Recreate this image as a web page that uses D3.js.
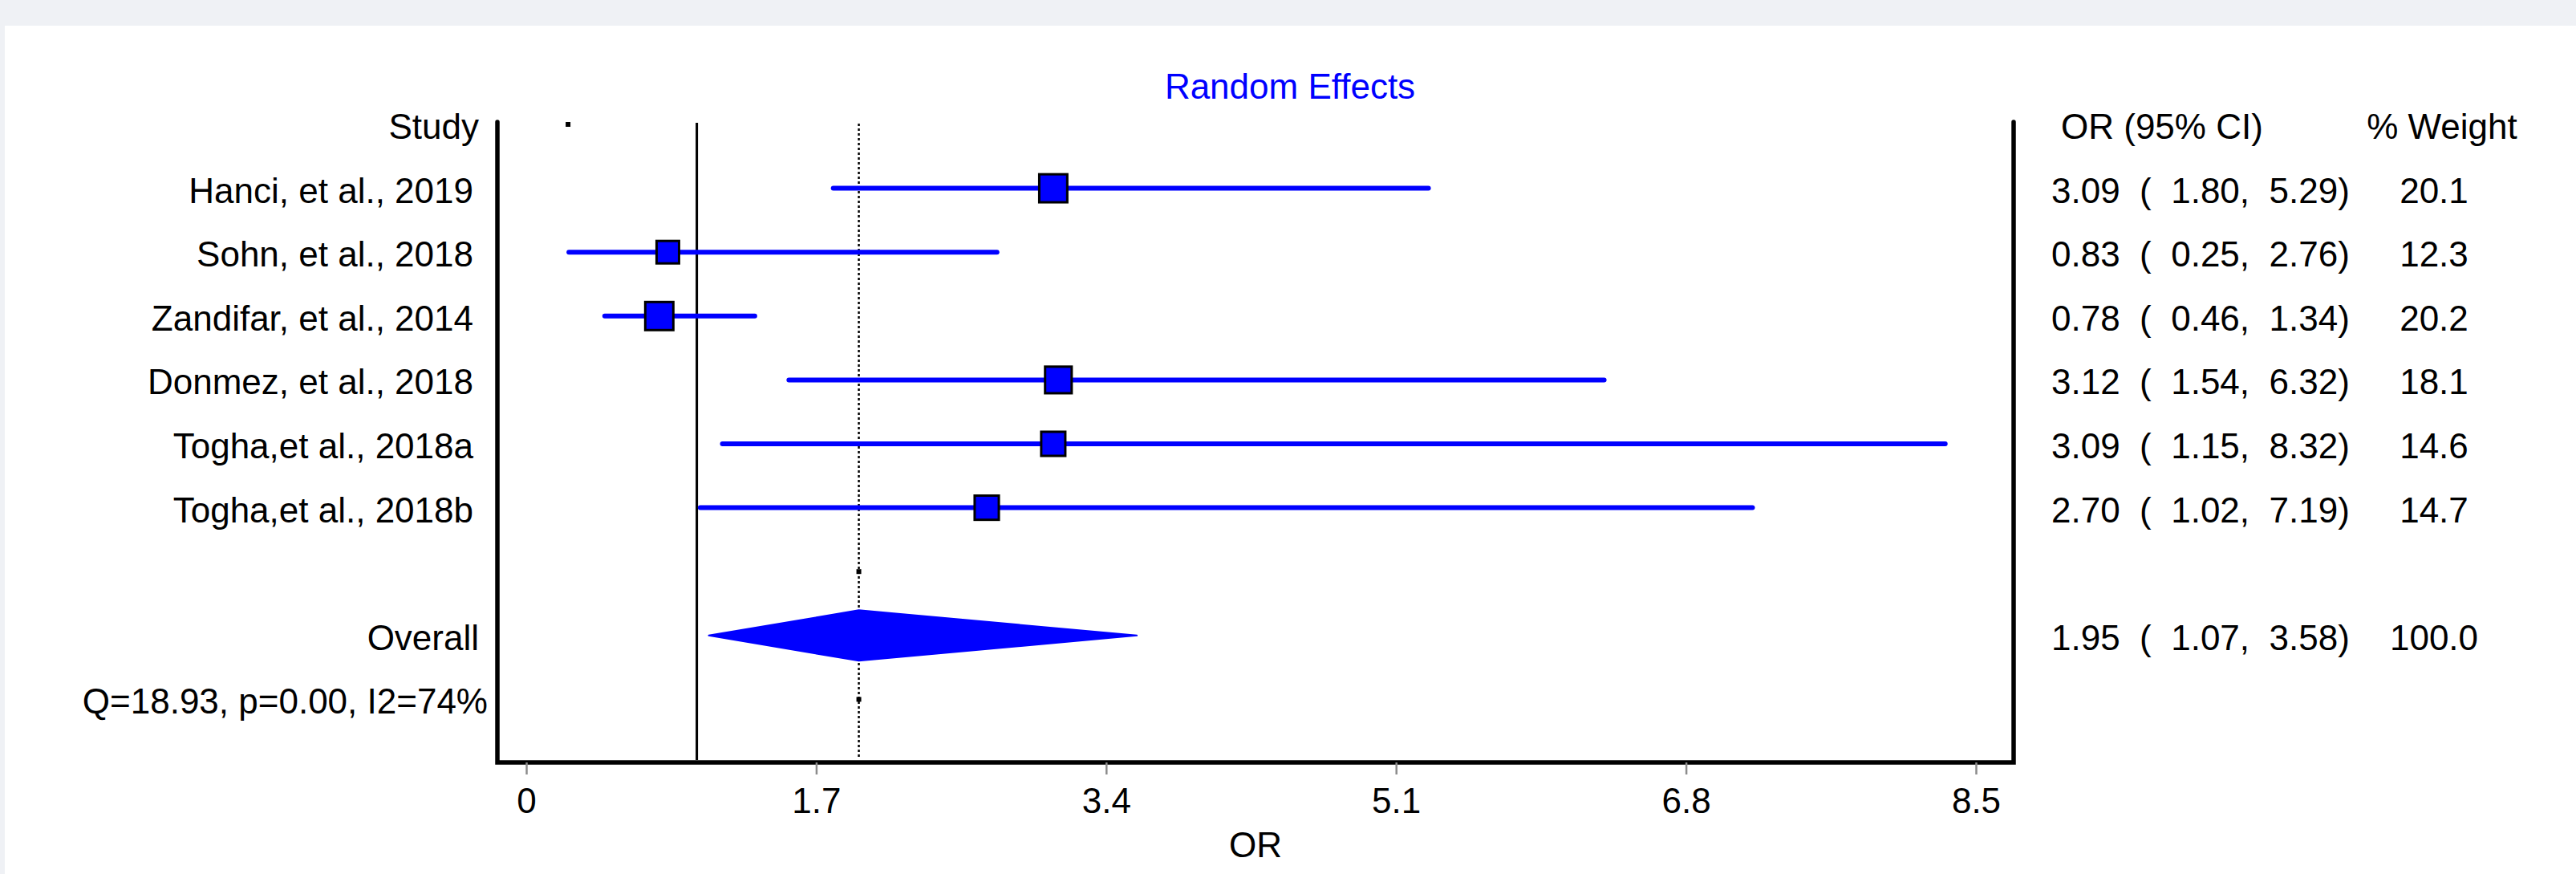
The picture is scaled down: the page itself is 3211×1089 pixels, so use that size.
<!DOCTYPE html>
<html>
<head>
<meta charset="utf-8">
<script src="https://cdn.jsdelivr.net/npm/d3@7"></script>
<style>
  html, body { margin: 0; padding: 0; background: #eff1f5; }
  svg { display: block; }
  text { font-family: "Liberation Sans", Arial, sans-serif; white-space: pre; }
</style>
</head>
<body>
<script>
/* global d3 */

// Data
const studies = ['Hanci, et al., 2019', 'Sohn, et al., 2018', 'Zandifar, et al., 2014',
  'Donmez, et al., 2018', 'Togha,et al., 2018a', 'Togha,et al., 2018b'];
const orValues = [3.09, 0.83, 0.78, 3.12, 3.09, 2.70];
const ciLower = [1.80, 0.25, 0.46, 1.54, 1.15, 1.02];
const ciUpper = [5.29, 2.76, 1.34, 6.32, 8.32, 7.19];
const weights = [20.1, 12.3, 20.2, 18.1, 14.6, 14.7];

const pooledOR = 1.95;
const pooledLower = 1.07;
const pooledUpper = 3.58;
const pooledWeight = 100.0;
const heterogeneityText = 'Q=18.93, p=0.00, I2=74%';

const tickValues = [0, 1.7, 3.4, 5.1, 6.8, 8.5];
const tickLabels = ['0', '1.7', '3.4', '5.1', '6.8', '8.5'];
const headerDotValue = 0.245;

const titleText = 'Random Effects';
const xAxisLabel = 'OR';

// Layout
const width = 3211;
const height = 1089;
const frameLeft = 620;
const frameRight = 2510;
const frameTop = 152;
const frameBottom = 950;
const blue = '#0000ff';
const fontSize = '44px';

const svg = d3.select('body')
  .append('svg')
  .attr('width', width)
  .attr('height', height);

// white panel
svg.append('rect')
  .attr('x', 6)
  .attr('y', 32)
  .attr('width', width - 6)
  .attr('height', height - 32)
  .attr('fill', '#ffffff');

// Scales
const xScale = d3.scaleLinear()
  .domain([0, 8.5])
  .range([656, 2463]);

// rows: 0 header, 1-6 studies, 7 blank, 8 overall, 9 heterogeneity
const yScale = d3.scalePoint()
  .domain(d3.range(10))
  .range([155, 871.4]);

const boxSize = d3.scaleLinear()
  .domain([12.3, 20.2])
  .range([31, 38]);

// Title
svg.append('text')
  .attr('x', 1608)
  .attr('y', 123)
  .attr('text-anchor', 'middle')
  .attr('fill', blue)
  .attr('font-size', fontSize)
  .text(titleText);

// Reference lines
svg.append('line')
  .attr('x1', xScale(1)).attr('x2', xScale(1))
  .attr('y1', 153).attr('y2', 947)
  .attr('stroke', 'black')
  .attr('stroke-width', 3);

svg.append('line')
  .attr('x1', xScale(pooledOR)).attr('x2', xScale(pooledOR))
  .attr('y1', 154).attr('y2', 946)
  .attr('stroke', 'black')
  .attr('stroke-width', 2.5)
  .attr('stroke-dasharray', '3,3');

// little dots
const dots = [[headerDotValue, 0], [pooledOR, 7], [pooledOR, 9]];
svg.append('g')
  .selectAll('rect')
  .data(dots)
  .join('rect')
  .attr('x', (d) => xScale(d[0]) - 3)
  .attr('y', (d) => yScale(d[1]) - 3)
  .attr('width', 6)
  .attr('height', 6)
  .attr('fill', 'black');

// Study CIs and boxes
const rows = studies.map((s, i) => ({
  name: s, or: orValues[i], lo: ciLower[i], hi: ciUpper[i], w: weights[i], row: i + 1,
}));

svg.append('g')
  .selectAll('line')
  .data(rows)
  .join('line')
  .attr('x1', (d) => xScale(d.lo))
  .attr('x2', (d) => xScale(d.hi))
  .attr('y1', (d) => yScale(d.row))
  .attr('y2', (d) => yScale(d.row))
  .attr('stroke', blue)
  .attr('stroke-width', 6)
  .attr('stroke-linecap', 'round');

svg.append('g')
  .selectAll('rect')
  .data(rows)
  .join('rect')
  .attr('x', (d) => xScale(d.or) - boxSize(d.w) / 2 + 1.5)
  .attr('y', (d) => yScale(d.row) - boxSize(d.w) / 2 + 1.5)
  .attr('width', (d) => boxSize(d.w) - 3)
  .attr('height', (d) => boxSize(d.w) - 3)
  .attr('fill', blue)
  .attr('stroke', 'black')
  .attr('stroke-width', 3);

// Overall diamond
const yo = yScale(8);
svg.append('path')
  .attr('d', `M${xScale(pooledLower)},${yo} L${xScale(pooledOR)},${yo - 31.5} `
    + `L${xScale(pooledUpper)},${yo} L${xScale(pooledOR)},${yo + 31.5} Z`)
  .attr('fill', blue)
  .attr('stroke', blue)
  .attr('stroke-width', 2)
  .attr('stroke-linejoin', 'round');

// Frame
svg.append('path')
  .attr('d', `M${frameLeft},${frameTop} V${frameBottom} H${frameRight} V${frameTop}`)
  .attr('fill', 'none')
  .attr('stroke', 'black')
  .attr('stroke-width', 5.5)
  .attr('stroke-linecap', 'round');

// Axis
const xAxis = d3.axisBottom(xScale)
  .tickValues(tickValues)
  .tickFormat((d, i) => tickLabels[i])
  .tickSize(15)
  .tickPadding(17);

const xAxisG = svg.append('g')
  .attr('transform', `translate(0,${frameBottom})`)
  .call(xAxis);
xAxisG.select('.domain').remove();
xAxisG.selectAll('.tick line')
  .attr('stroke', '#8c8c8c')
  .attr('stroke-width', 2.5);
xAxisG.selectAll('.tick text')
  .attr('fill', 'black')
  .attr('font-size', fontSize)
  .attr('font-family', '"Liberation Sans", Arial, sans-serif');

svg.append('text')
  .attr('x', (frameLeft + frameRight) / 2)
  .attr('y', 1068)
  .attr('text-anchor', 'middle')
  .attr('font-size', fontSize)
  .text(xAxisLabel);

// Left labels
const labelRows = [
  { text: 'Study', row: 0, x: 597 },
  ...rows.map((d) => ({ text: d.name, row: d.row, x: 590 })),
  { text: 'Overall', row: 8, x: 597 },
  { text: heterogeneityText, row: 9, x: 608 },
];
svg.append('g')
  .selectAll('text')
  .data(labelRows)
  .join('text')
  .attr('x', (d) => d.x)
  .attr('y', (d) => yScale(d.row) + 18)
  .attr('text-anchor', 'end')
  .attr('font-size', fontSize)
  .attr('fill', 'black')
  .text((d) => d.text);

// Right columns
svg.append('text')
  .attr('x', 2569)
  .attr('y', yScale(0) + 18)
  .attr('font-size', fontSize)
  .text('OR (95% CI)');

svg.append('text')
  .attr('x', 3044)
  .attr('y', yScale(0) + 18)
  .attr('text-anchor', 'middle')
  .attr('font-size', fontSize)
  .text('% Weight');

const f2 = d3.format('.2f');
const f1 = d3.format('.1f');
const rightRows = [
  ...rows.map((d) => ({ or: d.or, lo: d.lo, hi: d.hi, w: d.w, row: d.row })),
  { or: pooledOR, lo: pooledLower, hi: pooledUpper, w: pooledWeight, row: 8 },
];

svg.append('g')
  .selectAll('text')
  .data(rightRows)
  .join('text')
  .attr('x', 2557)
  .attr('y', (d) => yScale(d.row) + 18)
  .attr('font-size', fontSize)
  .text((d) => `${f2(d.or)}  (  ${f2(d.lo)},  ${f2(d.hi)})`);

svg.append('g')
  .selectAll('text')
  .data(rightRows)
  .join('text')
  .attr('x', 3034)
  .attr('y', (d) => yScale(d.row) + 18)
  .attr('text-anchor', 'middle')
  .attr('font-size', fontSize)
  .text((d) => f1(d.w));
</script>
</body>
</html>
